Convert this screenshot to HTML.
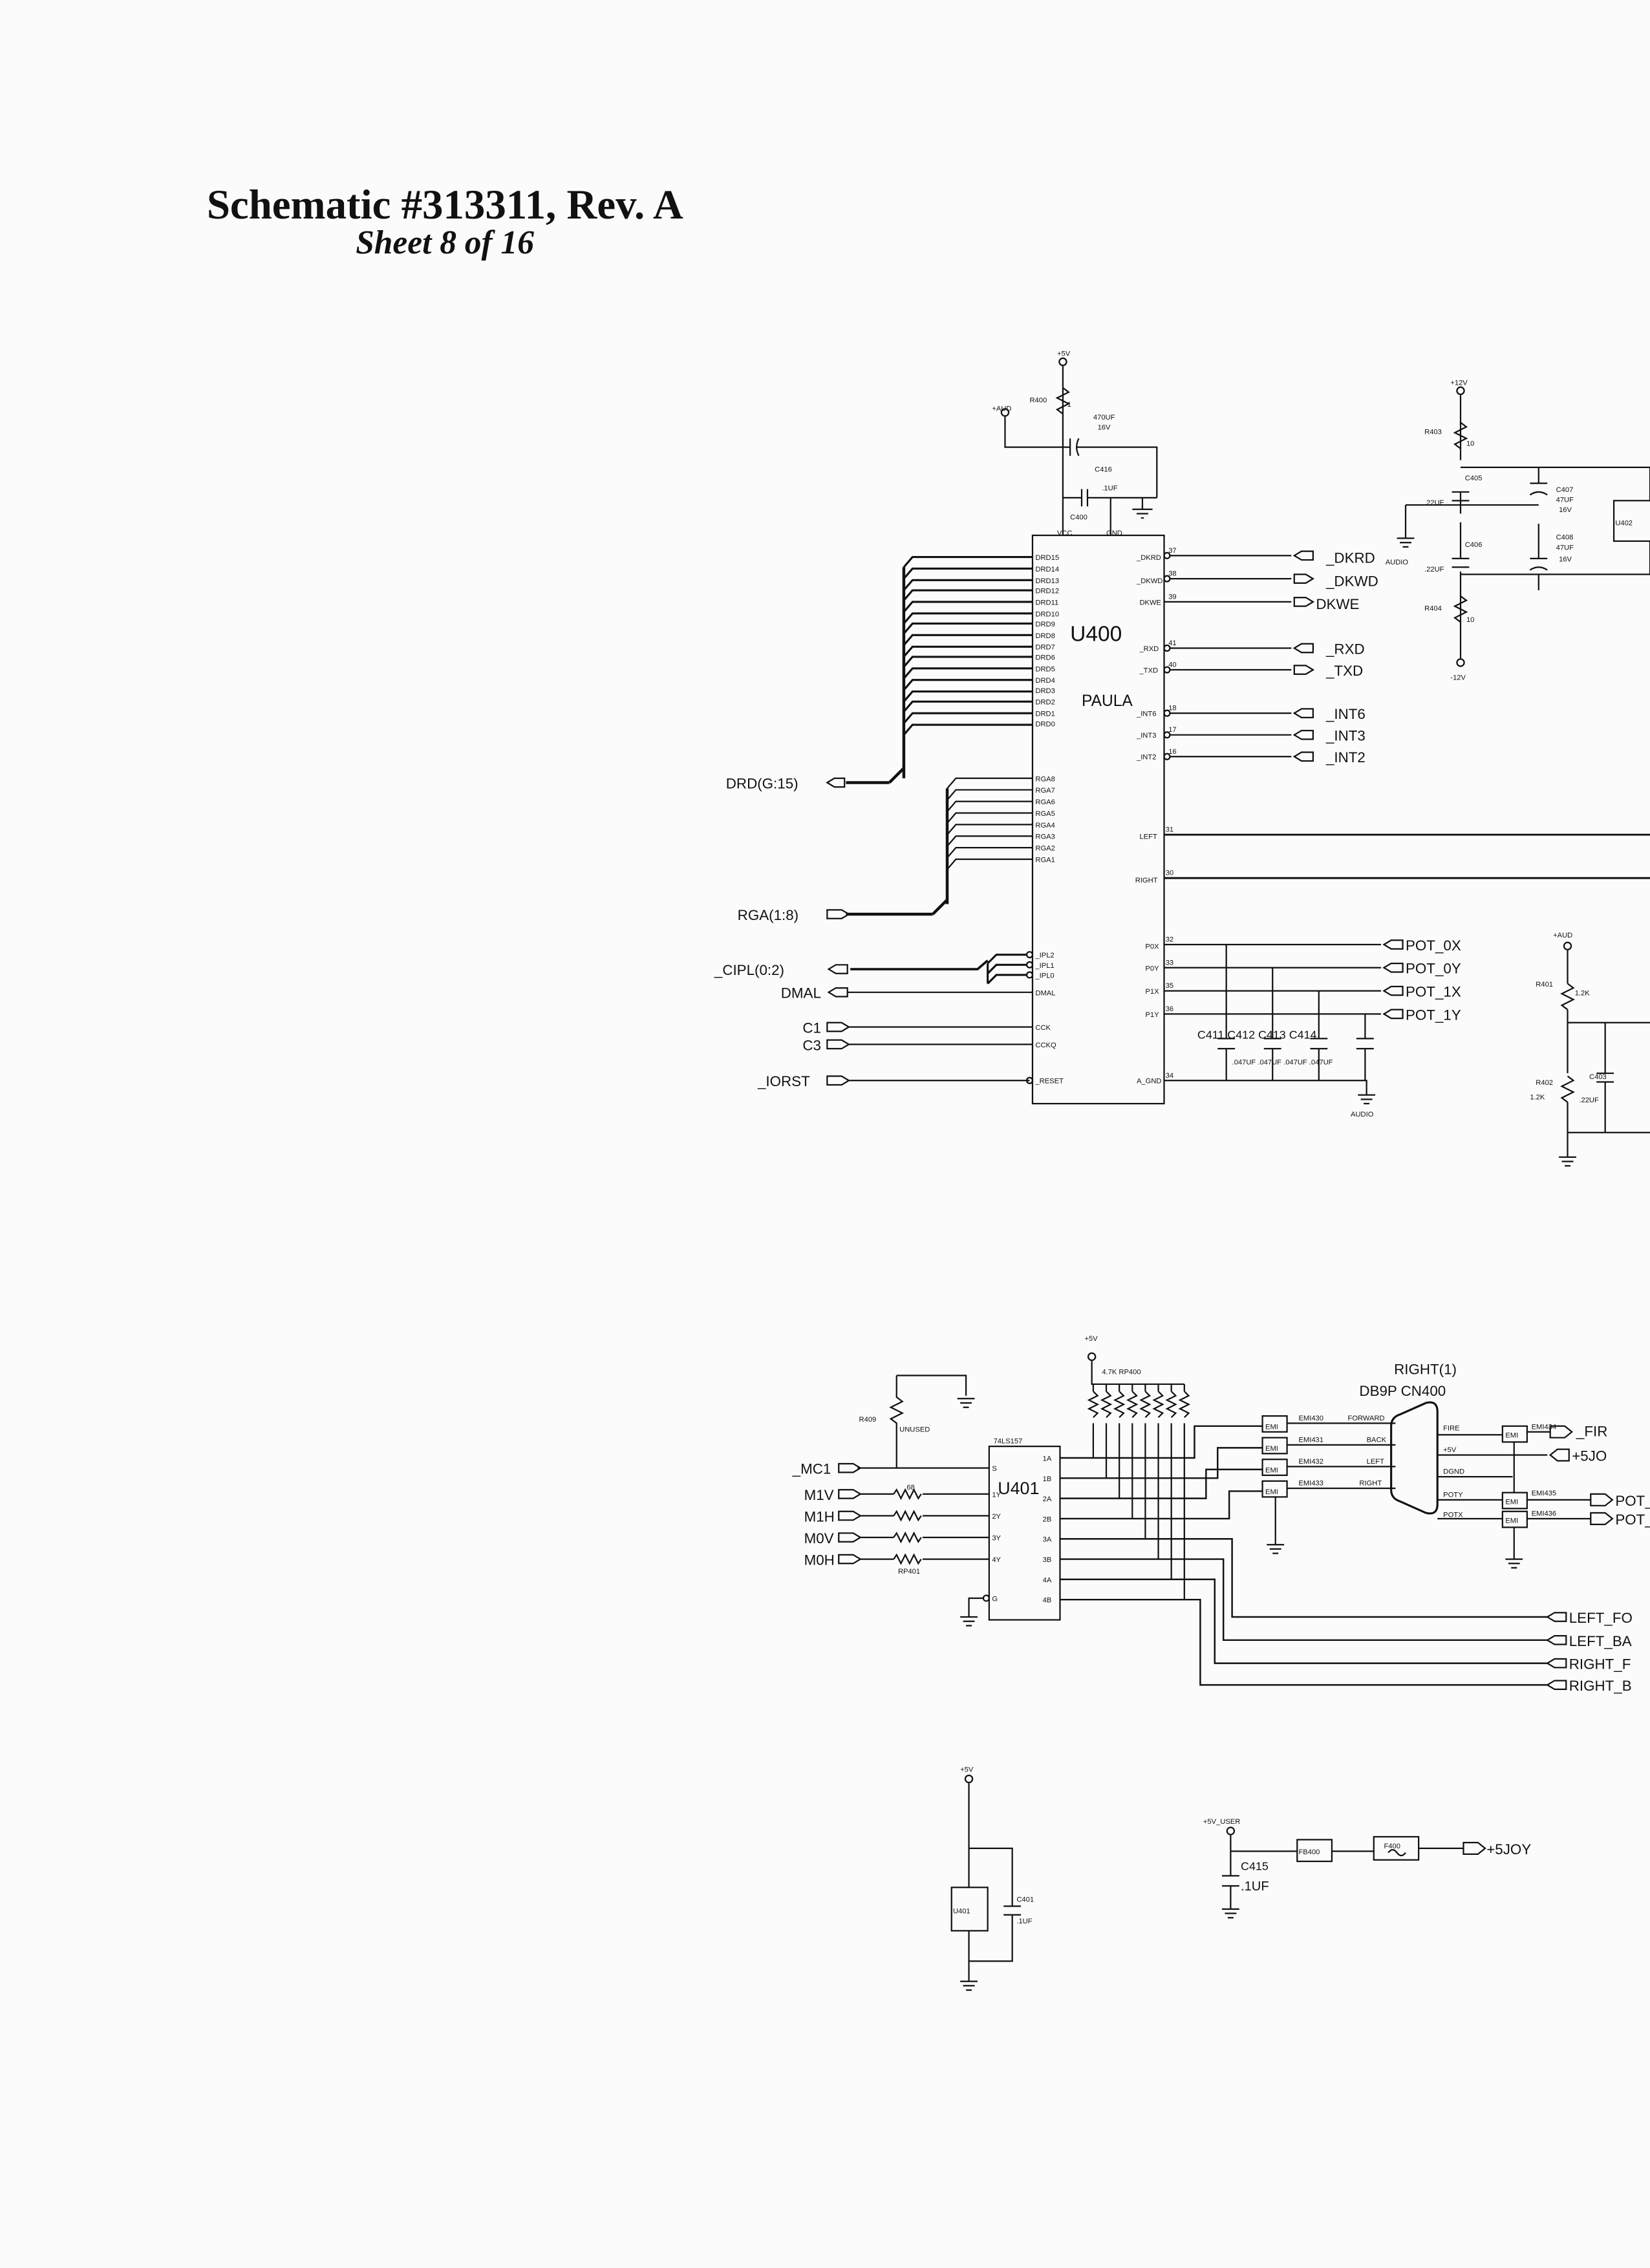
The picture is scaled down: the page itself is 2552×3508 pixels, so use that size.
<!DOCTYPE html>
<html><head><meta charset="utf-8"><style>
html,body{margin:0;padding:0;background:#fbfbfb}
svg{display:block}
text{font-family:"Liberation Sans",sans-serif;fill:#111}
</style></head><body>
<svg width="2552" height="3508" viewBox="0 0 1141 1568" xmlns="http://www.w3.org/2000/svg">
<rect width="1141" height="1568" fill="#fbfbfb"/>
<text x="143" y="151" style="font-family:'Liberation Serif',serif;font-weight:bold;font-size:29px">Schematic #313311, Rev. A</text>
<text x="246" y="175" style="font-family:'Liberation Serif',serif;font-weight:bold;font-style:italic;font-size:23px">Sheet 8 of 16</text>

<g stroke="#111" fill="none" stroke-width="1">
<!-- U400 -->
<rect x="714" y="370" width="91" height="393"/>
<circle cx="735" cy="250" r="2.5"/><line x1="735" y1="253" x2="735" y2="370"/>
<path d="M735 268 l4 3 -8 4 8 4 -8 4 4 3"/>
<circle cx="695" cy="285" r="2.5"/><path d="M695 288 V309 H740 M744 309 H800 V344"/>
<line x1="740" y1="303" x2="740" y2="315"/><path d="M746 303 q-3 6 0 12"/>
<path d="M735 344 H748 M752 344 H800"/><line x1="748" y1="338" x2="748" y2="350"/><line x1="752" y1="338" x2="752" y2="350"/>
<line x1="768" y1="344" x2="768" y2="370"/>
<path d="M790 344 V352 M783 352 H797 M786 355 H794 M789 358 H791"/>
<!-- DRD bus -->
<path d="M625 538 V392 M615 541 L625 531" stroke-width="2"/>
<path d="M585 541 H615" stroke-width="2"/>
<g stroke-width="1.4">
<path d="M625 392 l6 -7 H714 M625 400 l6 -7 H714 M625 408 l6 -7 H714 M625 415 l6 -7 H714 M625 423 l6 -7 H714 M625 431 l6 -7 H714 M625 438 l6 -7 H714 M625 446 l6 -7 H714 M625 454 l6 -7 H714 M625 461 l6 -7 H714 M625 469 l6 -7 H714 M625 477 l6 -7 H714 M625 485 l6 -7 H714 M625 492 l6 -7 H714 M625 500 l6 -7 H714 M625 508 l6 -7 H714"/>
</g>
<path d="M572 541 l5 -3 h7 v6 h-7 z"/>
<!-- RGA bus -->
<path d="M655 625 V545 M645 632 L655 622 M585 632 H645" stroke-width="2"/>
<path d="M655 545 l6 -7 H714 M655 553 l6 -7 H714 M655 561 l6 -7 H714 M655 569 l6 -7 H714 M655 577 l6 -7 H714 M655 585 l6 -7 H714 M655 593 l6 -7 H714 M655 601 l6 -7 H714"/>
<path d="M572 629 h10 l5 3 -5 3 h-10 z"/>
<!-- IPL -->
<path d="M683 666 l6 -6 H710 M683 673 l6 -6 H710 M683 680 l6 -6 H710 M683 666 V680" stroke-width="1.4"/>
<path d="M588 670 H676 L683 664" stroke-width="1.6"/>
<circle cx="712" cy="660" r="2"/><circle cx="712" cy="667" r="2"/><circle cx="712" cy="674" r="2"/>
<path d="M573 670 l5 -3 h8 v6 h-8 z"/>
<path d="M573 686 l5 -3 h8 v6 h-8 z M586 686 H714"/>
<path d="M572 707 h10 l5 3 -5 3 h-10 z M587 710 H714"/>
<path d="M572 719 h10 l5 3 -5 3 h-10 z M587 722 H714"/>
<path d="M572 744 h10 l5 3 -5 3 h-10 z M587 747 H712"/><circle cx="712" cy="747" r="2"/>
<!-- right pins -->
<path d="M809 384 H893 M809 400 H893 M805 416 H893 M809 448 H893 M809 463 H893 M809 493 H893 M809 508 H893 M809 523 H893"/>
<circle cx="807" cy="384" r="2"/><circle cx="807" cy="400" r="2"/><circle cx="807" cy="448" r="2"/><circle cx="807" cy="463" r="2"/><circle cx="807" cy="493" r="2"/><circle cx="807" cy="508" r="2"/><circle cx="807" cy="523" r="2"/>
<path d="M908 381 h-8 l-5 3 5 3 h8 z M895 397 h8 l5 3 -5 3 h-8 z M895 413 h8 l5 3 -5 3 h-8 z M908 445 h-8 l-5 3 5 3 h8 z M895 460 h8 l5 3 -5 3 h-8 z M908 490 h-8 l-5 3 5 3 h8 z M908 505 h-8 l-5 3 5 3 h8 z M908 520 h-8 l-5 3 5 3 h8 z"/>
<path d="M805 577 H1141 M805 607 H1141" stroke-width="1.3"/>
<path d="M805 653 H955 M805 669 H955 M805 685 H955 M805 701 H955"/>
<path d="M970 650 h-8 l-5 3 5 3 h8 z M970 666 h-8 l-5 3 5 3 h8 z M970 682 h-8 l-5 3 5 3 h8 z M970 698 h-8 l-5 3 5 3 h8 z"/>
<path d="M848 653 V718 M880 669 V718 M912 685 V718 M944 701 V718 M848 725 V747 M880 725 V747 M912 725 V747 M944 725 V747"/>
<path d="M842 718 h12 M874 718 h12 M906 718 h12 M938 718 h12 M842 725 h12 M874 725 h12 M906 725 h12 M938 725 h12"/>
<path d="M805 747 H945 V757 M939 757 h12 M941 760 h8 M943 763 h4"/>
<!-- +12V section -->
<circle cx="1010" cy="270" r="2.5"/><path d="M1010 273 V318 M1010 340 V355 M1010 361 V386 M1010 395 V455"/>
<path d="M1010 292 l4 3 -8 4 8 4 -8 4 4 3"/><path d="M1010 412 l4 3 -8 4 8 4 -8 4 4 3"/>
<circle cx="1010" cy="458" r="2.5"/>
<path d="M1004 340 h12 M1004 346 h12 M1004 386 h12 M1004 392 h12"/>
<path d="M1010 323 H1141 M972 349 H1064 M1010 397 H1141 M1064 323 V334 M1064 362 V386 M1064 408 V397"/>
<path d="M1058 334 h12 M1058 342 q6 -4 12 0 M1058 386 h12 M1058 394 q6 -4 12 0"/>
<path d="M972 349 V372 M966 372 h12 M968 375 h8 M970 378 h4"/>
<rect x="1116" y="346" width="26" height="28"/><path d="M1141 323 V346 M1141 374 V397"/>
<!-- R401 -->
<circle cx="1084" cy="654" r="2.5"/><path d="M1084 657 V680 M1084 698 V742 M1084 762 V800"/>
<path d="M1084 680 l4 3 -8 4 8 4 -8 4 4 3"/><path d="M1084 744 l4 3 -8 4 8 4 -8 4 4 3"/>
<path d="M1084 707 H1141 M1084 783 H1141 M1110 707 V742 M1110 748 V783 M1104 742 h12 M1104 748 h12"/>
<path d="M1078 800 h12 M1080 803 h8 M1082 806 h4"/>
<!-- bottom U401 section -->
<rect x="684" y="1000" width="49" height="120"/>
<path d="M620 951 H668 V965 M662 967 h12 M664 970 h8 M666 973 h4"/>
<path d="M620 951 V966 l4 3 -8 4 8 4 -8 4 4 3 V1015"/>
<path d="M593 1015 H684"/>
<path d="M580 1012 h10 l5 3 -5 3 h-10 z M580 1030 h10 l5 3 -5 3 h-10 z M580 1045 h10 l5 3 -5 3 h-10 z M580 1060 h10 l5 3 -5 3 h-10 z M580 1075 h10 l5 3 -5 3 h-10 z"/>
<path d="M595 1033 H618 M638 1033 H684 M595 1048 H618 M638 1048 H684 M595 1063 H618 M638 1063 H684 M595 1078 H618 M638 1078 H684"/>
<path d="M618 1033 l2 -3 3 6 3 -6 3 6 3 -6 3 6 2 -3 M618 1048 l2 -3 3 6 3 -6 3 6 3 -6 3 6 2 -3 M618 1063 l2 -3 3 6 3 -6 3 6 3 -6 3 6 2 -3 M618 1078 l2 -3 3 6 3 -6 3 6 3 -6 3 6 2 -3"/>
<path d="M680 1105 H670 V1118 M664 1118 h12 M666 1121 h8 M668 1124 h4"/><circle cx="682" cy="1105" r="2"/>
<!-- RP400 -->
<circle cx="755" cy="938" r="2.5"/><path d="M755 941 V957 H819"/>
<path d="M756 962 l3 3 -6 3 6 3 -6 3 6 3 -3 3 M765 962 l3 3 -6 3 6 3 -6 3 6 3 -3 3 M774 962 l3 3 -6 3 6 3 -6 3 6 3 -3 3 M783 962 l3 3 -6 3 6 3 -6 3 6 3 -3 3 M792 962 l3 3 -6 3 6 3 -6 3 6 3 -3 3 M801 962 l3 3 -6 3 6 3 -6 3 6 3 -3 3 M810 962 l3 3 -6 3 6 3 -6 3 6 3 -3 3 M819 962 l3 3 -6 3 6 3 -6 3 6 3 -3 3"/>
<path d="M756 957 V962 M765 957 V962 M774 957 V962 M783 957 V962 M792 957 V962 M801 957 V962 M810 957 V962 M819 957 V962"/>
<path d="M756 984 V1008 M765 984 V1022 M774 984 V1036 M783 984 V1050 M792 984 V1064 M801 984 V1078 M810 984 V1092 M819 984 V1106"/>
<g stroke-width="1.1">
<path d="M733 1008 H826 V986 H873"/>
<path d="M733 1022 H842 V1001 H873"/>
<path d="M733 1036 H834 V1016 H873"/>
<path d="M733 1050 H850 V1031 H873"/>
<path d="M733 1064 H852 V1118 H1070"/>
<path d="M733 1078 H846 V1134 H1070"/>
<path d="M733 1092 H840 V1150 H1070"/>
<path d="M733 1106 H830 V1165 H1070"/>
</g>
<rect x="873" y="979" width="17" height="11"/><rect x="873" y="994" width="17" height="11"/><rect x="873" y="1009" width="17" height="11"/><rect x="873" y="1024" width="17" height="11"/>
<path d="M882 1035 V1068 M876 1068 h12 M878 1071 h8 M880 1074 h4"/>
<path d="M890 984 H965 M890 999 H965 M890 1014 H965 M890 1029 H965"/>
<path d="M968 978 l18 -8 q8 -2 8 6 v64 q0 8 -8 6 l-18 -8 q-6 -2 -6 -8 v-44 q0 -6 6 -8 z" stroke-width="1.4"/>
<path d="M994 992 H1039 M994 1006 H1070 M994 1021 H1046 M994 1037 H1039 M994 1050 H1039"/>
<rect x="1039" y="986" width="17" height="11"/><rect x="1039" y="1032" width="17" height="11"/><rect x="1039" y="1045" width="17" height="11"/>
<path d="M1047 997 V1032 M1047 1056 V1078 M1041 1078 h12 M1043 1081 h8 M1045 1084 h4"/>
<path d="M1056 990 H1072 M1056 1037 H1100 M1056 1050 H1100"/>
<path d="M1072 986 h10 l5 4 -5 4 h-10 z M1100 1033 h10 l5 4 -5 4 h-10 z M1100 1046 h10 l5 4 -5 4 h-10 z M1085 1002 h-8 l-5 4 5 4 h8 z"/>
<path d="M1083 1115 h-8 l-5 3 5 3 h8 z M1083 1131 h-8 l-5 3 5 3 h8 z M1083 1147 h-8 l-5 3 5 3 h8 z M1083 1162 h-8 l-5 3 5 3 h8 z"/>
<!-- bottom power -->
<circle cx="670" cy="1230" r="2.5"/><path d="M670 1233 V1305 M670 1335 V1370 M670 1278 H700 V1318 M700 1324 V1356 H670 M694 1318 h12 M694 1324 h12 M664 1370 h12 M666 1373 h8 M668 1376 h4"/>
<rect x="658" y="1305" width="25" height="30"/>
<circle cx="851" cy="1266" r="2.5"/><path d="M851 1269 V1297 M851 1304 V1320 M845 1297 h12 M845 1304 h12 M845 1320 h12 M847 1323 h8 M849 1326 h4 M851 1280 H897 M921 1280 H950 M981 1278 H1012"/>
<rect x="897" y="1272" width="24" height="15"/><rect x="950" y="1270" width="31" height="16"/>
<path d="M960 1281 q3 -4 6 0 t6 0"/>
<path d="M1012 1274 h10 l5 4 -5 4 h-10 z"/>
</g>

<g font-size="5">
<text x="731" y="246">+5V</text><text x="712" y="278">R400</text><text x="738" y="281">1</text>
<text x="686" y="284">+AUD</text><text x="756" y="290">470UF</text><text x="759" y="297">16V</text>
<text x="757" y="326">C416</text><text x="762" y="339">.1UF</text><text x="740" y="359">C400</text>
<text x="731" y="370">VCC</text><text x="765" y="370">GND</text>
<text x="716" y="387">DRD15</text><text x="716" y="395">DRD14</text><text x="716" y="403">DRD13</text><text x="716" y="410">DRD12</text><text x="716" y="418">DRD11</text><text x="716" y="426">DRD10</text><text x="716" y="433">DRD9</text><text x="716" y="441">DRD8</text><text x="716" y="449">DRD7</text><text x="716" y="456">DRD6</text><text x="716" y="464">DRD5</text><text x="716" y="472">DRD4</text><text x="716" y="479">DRD3</text><text x="716" y="487">DRD2</text><text x="716" y="495">DRD1</text><text x="716" y="502">DRD0</text>
<text x="716" y="540">RGA8</text><text x="716" y="548">RGA7</text><text x="716" y="556">RGA6</text><text x="716" y="564">RGA5</text><text x="716" y="572">RGA4</text><text x="716" y="580">RGA3</text><text x="716" y="588">RGA2</text><text x="716" y="596">RGA1</text>
<text x="716" y="662">_IPL2</text><text x="716" y="669">_IPL1</text><text x="716" y="676">_IPL0</text>
<text x="716" y="688">DMAL</text><text x="716" y="712">CCK</text><text x="716" y="724">CCKQ</text><text x="716" y="749">_RESET</text>
<text x="786" y="387">_DKRD</text><text x="786" y="403">_DKWD</text><text x="788" y="418">DKWE</text><text x="788" y="450">_RXD</text><text x="788" y="465">_TXD</text><text x="786" y="495">_INT6</text><text x="786" y="510">_INT3</text><text x="786" y="525">_INT2</text>
<text x="788" y="580">LEFT</text><text x="785" y="610">RIGHT</text><text x="792" y="656">P0X</text><text x="792" y="671">P0Y</text><text x="792" y="687">P1X</text><text x="792" y="703">P1Y</text><text x="786" y="749">A_GND</text>
<text x="808" y="382">37</text><text x="808" y="398">38</text><text x="808" y="414">39</text><text x="808" y="446">41</text><text x="808" y="461">40</text><text x="808" y="491">18</text><text x="808" y="506">17</text><text x="808" y="521">16</text><text x="806" y="575">31</text><text x="806" y="605">30</text><text x="806" y="651">32</text><text x="806" y="667">33</text><text x="806" y="683">35</text><text x="806" y="699">36</text><text x="806" y="745">34</text>
<text x="852" y="736">.047UF .047UF .047UF .047UF</text><text x="934" y="772">AUDIO</text>
<text x="1003" y="266">+12V</text><text x="985" y="300">R403</text><text x="1014" y="308">10</text><text x="1013" y="332">C405</text><text x="985" y="349">.22UF</text><text x="1013" y="378">C406</text><text x="985" y="395">.22UF</text><text x="985" y="422">R404</text><text x="1014" y="430">10</text><text x="1003" y="470">-12V</text>
<text x="1076" y="340">C407</text><text x="1076" y="347">47UF</text><text x="1078" y="354">16V</text><text x="1076" y="373">C408</text><text x="1076" y="380">47UF</text><text x="1078" y="388">16V</text><text x="1117" y="363">U402</text><text x="958" y="390">AUDIO</text>
<text x="1074" y="648">+AUD</text><text x="1062" y="682">R401</text><text x="1089" y="688">1.2K</text><text x="1062" y="750">R402</text><text x="1058" y="760">1.2K</text><text x="1099" y="746">C403</text><text x="1092" y="762">.22UF</text>
<text x="750" y="927">+5V</text><text x="762" y="950">4.7K  RP400</text><text x="594" y="983">R409</text><text x="622" y="990">UNUSED</text><text x="687" y="998">74LS157</text>
<text x="627" y="1030">68</text><text x="621" y="1088">RP401</text>
<text x="686" y="1017">S</text><text x="686" y="1035">1Y</text><text x="686" y="1050">2Y</text><text x="686" y="1065">3Y</text><text x="686" y="1080">4Y</text><text x="686" y="1107">G</text>
<text x="721" y="1010">1A</text><text x="721" y="1024">1B</text><text x="721" y="1038">2A</text><text x="721" y="1052">2B</text><text x="721" y="1066">3A</text><text x="721" y="1080">3B</text><text x="721" y="1094">4A</text><text x="721" y="1108">4B</text>
<text x="898" y="982">EMI430</text><text x="898" y="997">EMI431</text><text x="898" y="1012">EMI432</text><text x="898" y="1027">EMI433</text>
<text x="932" y="982">FORWARD</text><text x="945" y="997">BACK</text><text x="945" y="1012">LEFT</text><text x="940" y="1027">RIGHT</text>
<text x="998" y="989">FIRE</text><text x="998" y="1004">+5V</text><text x="998" y="1019">DGND</text><text x="998" y="1035">POTY</text><text x="998" y="1049">POTX</text>
<text x="1059" y="988">EMI434</text><text x="1059" y="1034">EMI435</text><text x="1059" y="1048">EMI436</text>
<text x="875" y="988">EMI</text><text x="875" y="1003">EMI</text><text x="875" y="1018">EMI</text><text x="875" y="1033">EMI</text><text x="1041" y="994">EMI</text><text x="1041" y="1040">EMI</text><text x="1041" y="1053">EMI</text>
<text x="664" y="1225">+5V</text><text x="659" y="1323">U401</text><text x="703" y="1315">C401</text><text x="703" y="1330">.1UF</text>
<text x="832" y="1261">+5V_USER</text><text x="898" y="1282">FB400</text><text x="957" y="1278">F400</text>
</g>
<g font-size="10">
<text x="917" y="389">_DKRD</text><text x="917" y="405">_DKWD</text><text x="910" y="421">DKWE</text><text x="917" y="452">_RXD</text><text x="917" y="467">_TXD</text><text x="917" y="497">_INT6</text><text x="917" y="512">_INT3</text><text x="917" y="527">_INT2</text>
<text x="972" y="657">POT_0X</text><text x="972" y="673">POT_0Y</text><text x="972" y="689">POT_1X</text><text x="972" y="705">POT_1Y</text>
<text x="502" y="545">DRD(G:15)</text><text x="510" y="636">RGA(1:8)</text><text x="494" y="674">_CIPL(0:2)</text><text x="540" y="690">DMAL</text><text x="555" y="714">C1</text><text x="555" y="726">C3</text><text x="524" y="751">_IORST</text>
<text x="828" y="718" font-size="8">C411  C412  C413  C414</text>
<text x="548" y="1019">_MC1</text><text x="556" y="1037">M1V</text><text x="556" y="1052">M1H</text><text x="556" y="1067">M0V</text><text x="556" y="1082">M0H</text>
<text x="964" y="950">RIGHT(1)</text><text x="940" y="965">DB9P   CN400</text>
<text x="1090" y="993">_FIR</text><text x="1087" y="1010">+5JO</text><text x="1117" y="1041">POT_</text><text x="1117" y="1054">POT_</text>
<text x="1085" y="1122">LEFT_FO</text><text x="1085" y="1138">LEFT_BA</text><text x="1085" y="1154">RIGHT_F</text><text x="1085" y="1169">RIGHT_B</text>
<text x="1028" y="1282">+5JOY</text><text x="858" y="1293" font-size="8">C415</text><text x="858" y="1307" font-size="9">.1UF</text>
</g>
<text x="740" y="443" font-size="15">U400</text>
<text x="748" y="488" font-size="11">PAULA</text>
<text x="690" y="1033" font-size="12">U401</text>
</svg>
</body></html>
